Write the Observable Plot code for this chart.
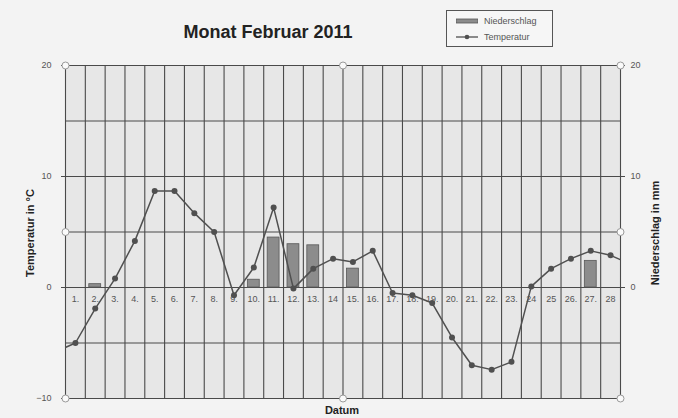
<!DOCTYPE html>
<html><head><meta charset="utf-8">
<script src="https://cdn.jsdelivr.net/npm/d3@7"></script>
<script src="https://cdn.jsdelivr.net/npm/@observablehq/plot@0.6"></script>
<style>
body{margin:0;background:#f3f3f3;font-family:"Liberation Sans",Arial,sans-serif;}
#wrap{position:relative;width:678px;height:418px;overflow:hidden;}
#chart{position:absolute;left:0;top:0;}
.ov{position:absolute;color:#222;font-weight:bold;white-space:nowrap;}
#title{left:0;width:536px;top:22px;text-align:center;font-size:18px;}
#legend{position:absolute;left:446px;top:10px;width:105px;height:35px;border:1.5px solid #555;background:#f6f6f6;font-size:9px;color:#555;}
.li{position:absolute;left:9px;display:flex;align-items:center;}
.li span{margin-left:6px;}
#ylab{left:30px;top:233px;font-size:11px;transform:translate(-50%,-50%) rotate(-90deg);}
#y2lab{left:655px;top:233px;font-size:11px;transform:translate(-50%,-50%) rotate(-90deg);}
#xlab{left:342px;top:404px;font-size:11px;transform:translateX(-50%);}
</style></head>
<body>
<div id="wrap">
  <div id="chart"></div>
  <div class="ov" id="title">Monat Februar 2011</div>
  <div id="legend">
    <div class="li" style="top:5px"><svg width="22" height="8"><rect x="0" y="2" width="22" height="4" fill="#8c8c8c" stroke="#555" stroke-width="0.8"/></svg><span>Niederschlag</span></div>
    <div class="li" style="top:21px"><svg width="22" height="8"><line x1="0" y1="4" x2="22" y2="4" stroke="#505050" stroke-width="1.3"/><circle cx="11" cy="4" r="2.3" fill="#505050"/></svg><span>Temperatur</span></div>
  </div>
  <div class="ov" id="ylab">Temperatur in °C</div>
  <div class="ov" id="y2lab">Niederschlag in mm</div>
  <div class="ov" id="xlab">Datum</div>
</div>
<script>
// Days of February 2011
const days = [1,2,3,4,5,6,7,8,9,10,11,12,13,14,15,16,17,18,19,20,21,22,23,24,25,26,27,28];
const dayLabels = ["1.","2.","3.","4.","5.","6.","7.","8.","9.","10.","11.","12.","13.","14","15.","16.","17.","18.","19.","20.","21.","22.","23.","24","25","26.","27.","28"];
// Temperature (°C) per day
const temps = [-5.0,-1.9,0.8,4.2,8.7,8.7,6.7,5.0,-0.7,1.8,7.2,-0.1,1.7,2.6,2.3,3.3,-0.5,-0.7,-1.4,-4.5,-7.0,-7.4,-6.7,0.1,1.7,2.6,3.3,2.9];
// Neighbouring values (31 Jan, 1 Mar) the line runs towards at the edges
const edgeDays = [0, 29];
const edgeTemps = [-5.8, 2.1];
// Precipitation (mm)
const rainDays = [2,10,11,12,13,15,27];
const rainMm = [0.3,0.7,4.5,3.9,3.8,1.7,2.4];
// Axis ticks
const leftTicks = [-10,0,10,20];
const rightTicks = [0,10,20];
const gridY = [-10,-5,0,5,10,15,20];

const tempData = [
  {day: edgeDays[0], t: edgeTemps[0]},
  ...days.map((d,i)=>({day:d, t:temps[i]})),
  {day: edgeDays[1], t: edgeTemps[1]}
];
const rain = rainDays.map((d,i)=>({day:d, mm:rainMm[i]}));
const xDomain = [days[0]-0.5, days[days.length-1]+0.5];
const yDomain = [-10, 20];
const boundaries = [...days.map(d=>d-0.5), days[days.length-1]+0.5];
const xMid = (xDomain[0]+xDomain[1])/2, yMid = (yDomain[0]+yDomain[1])/2;
const handles = [
  {x:xDomain[0],y:yDomain[1]},{x:xMid,y:yDomain[1]},{x:xDomain[1],y:yDomain[1]},
  {x:xDomain[0],y:yMid},{x:xDomain[1],y:yMid},
  {x:xDomain[0],y:yDomain[0]},{x:xMid,y:yDomain[0]},{x:xDomain[1],y:yDomain[0]}
];

const grid = "#4a4a4a";
const chart = Plot.plot({
  width: 678, height: 418,
  marginTop: 65, marginBottom: 20, marginLeft: 65, marginRight: 58,
  style: {background: "transparent", fontFamily: "Liberation Sans, Arial, sans-serif", fontSize: "9px", color: "#444"},
  x: {domain: xDomain, axis: null},
  y: {domain: yDomain, axis: null},
  marks: [
    Plot.frame({fill: "#e7e7e7", stroke: null}),
    Plot.ruleY(gridY, {stroke: grid, strokeWidth: 1.1}),
    Plot.ruleX(boundaries, {stroke: grid, strokeWidth: 1.1}),
    Plot.axisY({anchor: "left", ticks: leftTicks, tickSize: 4, tickPadding: 10, label: null, stroke: grid, fill: "#555"}),
    Plot.axisY({anchor: "right", ticks: rightTicks, tickSize: 4, tickPadding: 6, label: null, stroke: grid, fill: "#555"}),
    Plot.rectY(rain, {x1: d=>d.day-0.3, x2: d=>d.day+0.3, y1: 0, y2: "mm", fill: "#8c8c8c", stroke: "#585858", strokeWidth: 0.8}),
    Plot.text(days, {x: d=>d, y: 0, text: (d,i)=>dayLabels[i], dy: 12, fontSize: 9, fill: "#555"}),
    Plot.line(tempData, {x: "day", y: "t", stroke: "#505050", strokeWidth: 1.5, clip: true}),
    Plot.dot(tempData, {x: "day", y: "t", r: 3, fill: "#505050", clip: true}),
    Plot.dot(handles, {x: "x", y: "y", r: 3.5, fill: "#fafafa", stroke: "#9a9a9a", strokeWidth: 1})
  ]
});
document.getElementById("chart").appendChild(chart);
</script>
</body></html>
